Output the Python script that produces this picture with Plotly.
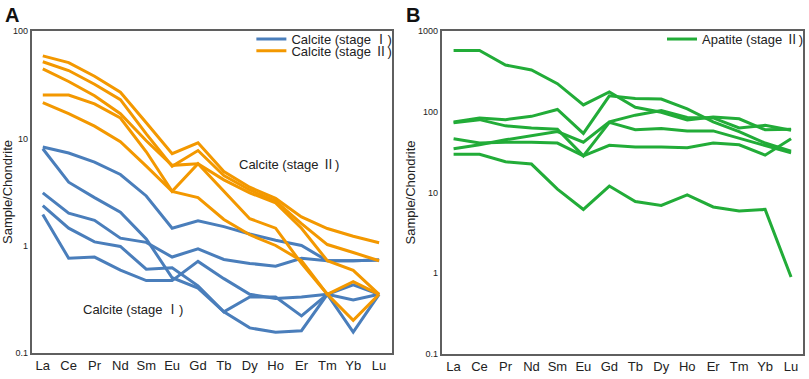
import plotly.graph_objects as go

W, H = 809, 379

ree = ["La", "Ce", "Pr", "Nd", "Sm", "Eu", "Gd", "Tb", "Dy", "Ho", "Er", "Tm", "Yb", "Lu"]

# Panel A: calcite stage I (blue)
cal1_a = [8.3, 7.3, 6.0, 4.6, 2.9, 1.45, 1.7, 1.5, 1.28, 1.12, 1.0, 0.72, 0.72, 0.73]
cal1_b = [8.0, 3.9, 2.8, 2.05, 1.15, 0.5, 0.4, 0.24, 0.17, 0.155, 0.16, 0.35, 0.155, 0.35]
cal1_c = [3.1, 2.0, 1.72, 1.17, 1.07, 0.78, 0.93, 0.74, 0.68, 0.64, 0.76, 0.72, 0.72, 0.73]
cal1_d = [2.35, 1.45, 1.08, 0.98, 0.6, 0.62, 0.42, 0.24, 0.33, 0.33, 0.22, 0.35, 0.43, 0.35]
cal1_e = [1.95, 0.76, 0.78, 0.59, 0.47, 0.47, 0.71, 0.49, 0.35, 0.32, 0.33, 0.35, 0.31, 0.35]

# Panel A: calcite stage II (orange)
cal2_a = [59, 51, 38, 27, 14, 7.2, 9.1, 4.9, 3.5, 2.75, 1.85, 1.44, 1.22, 1.06]
cal2_b = [52, 43, 32, 23, 11, 5.5, 7.7, 4.5, 3.3, 2.6, 1.6, 1.02, 0.86, 0.72]
cal2_c = [44.6, 34, 25, 17, 9.5, 5.6, 5.8, 4.1, 3.1, 2.5, 1.45, 0.72, 0.585, 0.35]
cal2_d = [25.4, 25.4, 21, 15.5, 7.5, 3.2, 5.8, 3.2, 1.78, 1.45, 0.68, 0.35, 0.46, 0.35]
cal2_e = [21.6, 17, 13, 9.3, 5.5, 3.2, 2.8, 1.75, 1.26, 1.0, 0.72, 0.35, 0.2, 0.35]

# Panel B: apatite stage II (green)
ap_a = [578, 578, 381, 331, 224, 122, 177, 114, 99, 79, 86, 82, 60, 61]
ap_b = [75, 84, 80, 88, 107, 54, 158, 147, 144, 109, 75, 57, 41, 32.6]
ap_c = [73, 80, 67, 63, 61, 28.4, 74, 60, 62, 58, 58, 47, 38.5, 31]
ap_d = [46.5, 41, 42, 42, 41, 28.4, 38.5, 36.5, 36.5, 35.8, 41, 39, 29, 46.5]
ap_e = [34.8, 39, 45, 51, 57, 42, 75, 91, 104, 85, 84, 63, 68, 59]
ap_f = [29.7, 29.7, 24, 22.5, 11, 6.15, 12, 7.7, 6.9, 9.3, 6.6, 5.9, 6.15, 0.89]

BLUE = "#4a7ebb"
ORANGE = "#f39800"
GREEN = "#22ac38"
FRAME = "#5f5f5f"
FONT = "Liberation Sans, Arial, sans-serif"
ONE = "<span style=\"font-family:Noto Sans CJK SC\">Ⅰ</span>"
TWO = "<span style=\"font-family:Noto Sans CJK SC\">Ⅱ</span>"

fig = go.Figure()

def add(vals, color, name, show, xa, ya, leg):
    fig.add_trace(go.Scatter(
        x=ree, y=vals, mode="lines", name=name, showlegend=show,
        line=dict(color=color, width=3), xaxis=xa, yaxis=ya, legend=leg,
        hoverinfo="skip"))

for i, s in enumerate([cal1_a, cal1_b, cal1_c, cal1_d, cal1_e]):
    add(s, BLUE, "Calcite (stage " + ONE + ")", i == 0, "x", "y", "legend")
for i, s in enumerate([cal2_a, cal2_b, cal2_c, cal2_d, cal2_e]):
    add(s, ORANGE, "Calcite (stage " + TWO + ")", i == 0, "x", "y", "legend2")
for i, s in enumerate([ap_a, ap_b, ap_c, ap_d, ap_e, ap_f]):
    add(s, GREEN, "Apatite (stage " + TWO + ")", i == 0, "x2", "y2", "legend3")

def px_x(v):
    return v / W

def px_y(v):
    return 1 - v / H

xcommon = dict(type="category", showline=True, mirror=True, linecolor=FRAME,
               linewidth=2, showgrid=False, zeroline=False, ticks="",
               tickfont=dict(family=FONT, size=13, color="#222"), fixedrange=True)
ycommon = dict(type="log", showline=True, mirror=True, linecolor=FRAME,
               linewidth=2, showgrid=False, zeroline=False, ticks="",
               tickfont=dict(family=FONT, size=9, color="#222"),
               title=dict(text="Sample/Chondrite", standoff=0,
                          font=dict(family=FONT, size=13, color="#222")))

legfont = dict(family=FONT, size=13, color="#222")

fig.update_layout(
    width=W, height=H,
    margin=dict(l=0, r=0, t=0, b=0),
    paper_bgcolor="white", plot_bgcolor="white",
    xaxis=dict(xcommon, domain=[px_x(32), px_x(393)], range=[-0.42, 13.5], anchor="y"),
    yaxis=dict(ycommon, domain=[px_y(357), px_y(27)], range=[-1, 2], anchor="x",
               tickvals=[0.1, 1, 10, 100], ticktext=["0.1", "1", "10", "100"]),
    xaxis2=dict(xcommon, domain=[px_x(443), px_x(805)], range=[-0.45, 13.46], anchor="y2"),
    yaxis2=dict(ycommon, domain=[px_y(358), px_y(27)], range=[-1, 3], anchor="x2",
                tickvals=[0.1, 1, 10, 100, 1000], ticktext=["0.1", "1", "10", "100", "1000"]),
    legend=dict(x=px_x(252), y=px_y(35), xanchor="left", yanchor="middle",
                bgcolor="rgba(0,0,0,0)", font=legfont, itemwidth=30),
    legend2=dict(x=px_x(252), y=px_y(47), xanchor="left", yanchor="middle",
                 bgcolor="rgba(0,0,0,0)", font=legfont, itemwidth=30),
    legend3=dict(x=px_x(664), y=px_y(35), xanchor="left", yanchor="middle",
                 bgcolor="rgba(0,0,0,0)", font=legfont, itemwidth=30),
    showlegend=True,
)

fig.add_annotation(text="<b>A</b>", xref="paper", yref="paper", x=px_x(3), y=px_y(-3),
                   xanchor="left", yanchor="top", showarrow=False,
                   font=dict(family=FONT, size=20, color="#111"))
fig.add_annotation(text="<b>B</b>", xref="paper", yref="paper", x=px_x(405), y=px_y(-3),
                   xanchor="left", yanchor="top", showarrow=False,
                   font=dict(family=FONT, size=20, color="#111"))
fig.add_annotation(text="Calcite (stage " + TWO + ")", xref="x", yref="y", x=9.5, y=0.767,
                   showarrow=False, font=dict(family=FONT, size=13, color="#222"))
fig.add_annotation(text="Calcite (stage " + ONE + ")", xref="x", yref="y", x=3.47, y=-0.593,
                   showarrow=False, font=dict(family=FONT, size=13, color="#222"))

fig.write_html("out.html", config={"displayModeBar": False, "staticPlot": True},
               post_script="document.body.style.margin='0';document.body.style.padding='0';document.documentElement.style.overflow='hidden';")
